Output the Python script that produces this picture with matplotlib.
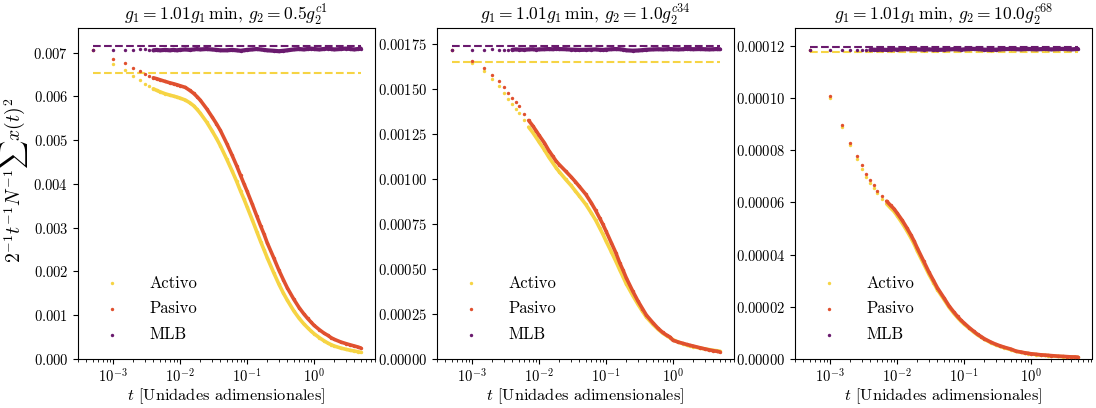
import matplotlib
matplotlib.use("Agg")
import matplotlib.pyplot as plt
import matplotlib.transforms as mtransforms
import numpy as np

plt.rcParams['font.family'] = 'serif'
plt.rcParams['font.serif'] = ['cmr10']
plt.rcParams['mathtext.fontset'] = 'cm'
plt.rcParams['axes.formatter.use_mathtext'] = True
plt.rcParams['axes.unicode_minus'] = False

# time grid (read positions)
T = [0.0005, 0.001, 0.0015, 0.002, 0.0025, 0.003, 0.0035, 0.004, 0.0045, 0.005,
     0.006, 0.007, 0.008, 0.009, 0.01, 0.012, 0.014, 0.016, 0.018, 0.02,
     0.025, 0.03, 0.035, 0.04, 0.05, 0.06, 0.07, 0.08, 0.09, 0.1,
     0.12, 0.14, 0.16, 0.18, 0.2, 0.25, 0.3, 0.35, 0.4, 0.5,
     0.6, 0.7, 0.8, 0.9, 1.0, 1.2, 1.4, 1.6, 1.8, 2.0,
     2.5, 3.0, 3.5, 4.0, 4.5, 5.0]

titles = [r'$g_1 = 1.01g_1\,\min$, $g_2 = 0.5g_2^{c1}$',
          r'$g_1 = 1.01g_1\,\min$, $g_2 = 1.0g_2^{c34}$',
          r'$g_1 = 1.01g_1\,\min$, $g_2 = 10.0g_2^{c68}$']
labels = ['Activo', 'Pasivo', 'MLB']
xlabel = r'$t$ [Unidades adimensionales]'
ylabel = r'$2^{-1}t^{-1}N^{-1}\sum x(t)^2$'

# panel 1 (x1e-3)
p1_activo = [7.06, 6.743, 6.591, 6.461, 6.362, 6.286, 6.225, 6.172, 6.134, 6.104,
             6.058, 6.028, 6.005, 5.982, 5.959, 5.914, 5.852, 5.784, 5.700, 5.617,
             5.411, 5.213, 5.038, 4.871, 4.559, 4.292, 4.057, 3.836, 3.653, 3.478,
             3.174, 2.908, 2.679, 2.489, 2.314, 1.972, 1.705, 1.500, 1.340, 1.096,
             0.929, 0.807, 0.716, 0.640, 0.579, 0.487, 0.419, 0.366, 0.328, 0.297,
             0.251, 0.221, 0.198, 0.183, 0.167, 0.152]
p1_pasivo = [7.06, 6.857, 6.750, 6.652, 6.568, 6.507, 6.461, 6.423, 6.401, 6.378,
             6.340, 6.309, 6.286, 6.264, 6.241, 6.203, 6.134, 6.066, 5.990, 5.914,
             5.716, 5.533, 5.373, 5.221, 4.917, 4.650, 4.415, 4.194, 4.003, 3.836,
             3.532, 3.265, 3.037, 2.847, 2.656, 2.314, 2.025, 1.804, 1.622, 1.363,
             1.173, 1.036, 0.929, 0.845, 0.769, 0.670, 0.594, 0.541, 0.487, 0.450,
             0.389, 0.351, 0.321, 0.297, 0.275, 0.251]
p1_mlb = [7.05, 7.05, 7.06, 7.06, 7.07, 7.07, 7.06, 7.05, 7.06, 7.05,
          7.06, 7.05, 7.06, 7.05, 7.06, 7.07, 7.06, 7.07, 7.08, 7.07,
          7.08, 7.07, 7.06, 7.05, 7.05, 7.06, 7.05, 7.04, 7.05, 7.06,
          7.07, 7.08, 7.07, 7.06, 7.05, 7.04, 7.03, 7.04, 7.05, 7.07,
          7.08, 7.07, 7.08, 7.09, 7.08, 7.07, 7.08, 7.09, 7.08, 7.07,
          7.08, 7.09, 7.08, 7.07, 7.08, 7.09]
p1_ref_mlb = 7.146
p1_ref_activo = 6.53

# panel 2 (x1e-3)
p2_activo = [1.720, 1.646, 1.600, 1.557, 1.517, 1.480, 1.448, 1.419, 1.391, 1.369,
             1.326, 1.289, 1.261, 1.233, 1.207, 1.163, 1.122, 1.091, 1.063, 1.041,
             0.998, 0.965, 0.933, 0.906, 0.859, 0.813, 0.772, 0.730, 0.693, 0.656,
             0.596, 0.544, 0.496, 0.456, 0.419, 0.354, 0.304, 0.265, 0.233, 0.193,
             0.165, 0.144, 0.130, 0.119, 0.107, 0.094, 0.085, 0.078, 0.072, 0.069,
             0.061, 0.056, 0.052, 0.048, 0.046, 0.043]
p2_pasivo = [1.720, 1.659, 1.619, 1.578, 1.545, 1.511, 1.480, 1.452, 1.426, 1.404,
             1.363, 1.326, 1.298, 1.270, 1.244, 1.202, 1.159, 1.128, 1.100, 1.081,
             1.044, 1.013, 0.985, 0.959, 0.915, 0.869, 0.826, 0.785, 0.748, 0.711,
             0.646, 0.591, 0.535, 0.493, 0.452, 0.378, 0.322, 0.280, 0.244, 0.202,
             0.170, 0.148, 0.133, 0.122, 0.104, 0.094, 0.087, 0.081, 0.076, 0.072,
             0.063, 0.056, 0.050, 0.046, 0.043, 0.039]
p2_mlb = [1.716, 1.718, 1.720, 1.722, 1.720, 1.718, 1.720, 1.719, 1.721, 1.720,
          1.719, 1.721, 1.722, 1.720, 1.721, 1.722, 1.723, 1.722, 1.724, 1.723,
          1.722, 1.720, 1.719, 1.718, 1.719, 1.720, 1.721, 1.719, 1.718, 1.720,
          1.722, 1.723, 1.722, 1.720, 1.716, 1.714, 1.715, 1.717, 1.719, 1.721,
          1.722, 1.721, 1.722, 1.723, 1.722, 1.721, 1.722, 1.724, 1.723, 1.722,
          1.723, 1.722, 1.721, 1.722, 1.723, 1.722]
p2_ref_mlb = 1.739
p2_ref_activo = 1.650

# panel 3 (x1e-5)
p3_activo = [11.86, 10.00, 8.91, 8.19, 7.66, 7.29, 6.98, 6.75, 6.55, 6.36,
             6.14, 5.95, 5.79, 5.66, 5.50, 5.20, 4.92, 4.66, 4.41, 4.15,
             3.65, 3.24, 2.93, 2.66, 2.29, 1.98, 1.76, 1.59, 1.45, 1.34,
             1.17, 1.03, 0.92, 0.84, 0.76, 0.63, 0.54, 0.48, 0.43, 0.36,
             0.29, 0.26, 0.23, 0.21, 0.19, 0.17, 0.15, 0.14, 0.13, 0.12,
             0.10, 0.09, 0.08, 0.07, 0.07, 0.06]
p3_pasivo = [11.86, 10.07, 8.99, 8.29, 7.80, 7.42, 7.11, 6.87, 6.66, 6.46,
             6.24, 6.05, 5.89, 5.76, 5.60, 5.31, 5.03, 4.77, 4.52, 4.26,
             3.75, 3.33, 3.01, 2.73, 2.35, 2.03, 1.81, 1.63, 1.49, 1.38,
             1.20, 1.06, 0.94, 0.86, 0.78, 0.65, 0.56, 0.50, 0.45, 0.38,
             0.30, 0.27, 0.24, 0.22, 0.20, 0.18, 0.16, 0.15, 0.14, 0.13,
             0.11, 0.10, 0.09, 0.08, 0.08, 0.07]
p3_mlb = [11.83, 11.84, 11.85, 11.86, 11.85, 11.86, 11.84, 11.85, 11.86, 11.85,
          11.86, 11.85, 11.86, 11.87, 11.86, 11.87, 11.88, 11.87, 11.88, 11.87,
          11.86, 11.87, 11.86, 11.85, 11.86, 11.87, 11.88, 11.87, 11.86, 11.87,
          11.88, 11.89, 11.88, 11.87, 11.86, 11.85, 11.86, 11.87, 11.88, 11.89,
          11.88, 11.87, 11.88, 11.89, 11.88, 11.87, 11.88, 11.89, 11.88, 11.87,
          11.88, 11.89, 11.88, 11.87, 11.88, 11.89]
p3_ref_mlb = 11.97
p3_ref_activo = 11.77

panels = [
    dict(scale=1e-3, data=[p1_activo, p1_pasivo, p1_mlb], refs=(p1_ref_activo, p1_ref_mlb),
         ylim=0.00756, dense=7),
    dict(scale=1e-3, data=[p2_activo, p2_pasivo, p2_mlb], refs=(p2_ref_activo, p2_ref_mlb),
         ylim=0.00184, dense=11),
    dict(scale=1e-5, data=[p3_activo, p3_pasivo, p3_mlb], refs=(p3_ref_activo, p3_ref_mlb),
         ylim=0.0001269, dense=11),
]

colors = ['#f6d444', '#e0502f', '#6a1a6e']

W, H = 1096, 408
fig = plt.figure(figsize=(W / 100, H / 100), dpi=100)
renderer = fig.canvas.get_renderer()


def fit_size(s, target_px, fs0=12.0):
    tx = fig.text(0, 0, s, fontsize=fs0)
    w = tx.get_window_extent(renderer=renderer).width
    tx.remove()
    return fs0 * target_px / w


# text sizes fitted to the widths measured on the reference
title_fs = np.mean([fit_size(titles[0], 205), fit_size(titles[1], 211), fit_size(titles[2], 219)])
xlabel_fs = fit_size(xlabel, 198)
ylabel_fs = fit_size(ylabel, 166)
legend_fs = fit_size('Activo', 48)
leg_px = legend_fs * 100 / 72

lefts = [78, 437, 795]
t = np.array(T)
axes = []
for i, p in enumerate(panels):
    ax = fig.add_axes([lefts[i] / W, 49 / H, 296.5 / W, 331 / H])
    axes.append(ax)
    sc = p['scale']
    ax.plot([t[0], t[-1]], [p['refs'][0] * sc] * 2, '--', color=colors[0], lw=1.5, zorder=1)
    ax.plot([t[0], t[-1]], [p['refs'][1] * sc] * 2, '--', color=colors[2], lw=1.5, zorder=1)
    for j, (vals, lab) in enumerate(zip(p['data'], labels)):
        y = np.array(vals) * sc
        d = p['dense'] if j < 2 else 7
        ax.plot(t[d:], y[d:], '-', color=colors[j], lw=2.6 if j < 2 else 3.0,
                solid_capstyle='round', zorder=2 + j)
        ax.scatter(t, y, s=6, color=colors[j], linewidths=0, label=lab, zorder=2 + j)
    ax.set_xscale('log')
    ax.set_xlim(3.0e-4, 8.0)
    ax.set_ylim(0, p['ylim'])
    ax.set_title(titles[i], fontsize=title_fs, pad=4)
    ax.set_xlabel(xlabel, fontsize=xlabel_fs, labelpad=2)
    ax.tick_params(labelsize=10.5)
    ax.tick_params(axis='x', pad=2.5)
    ax.legend(loc='lower left', frameon=False, fontsize=legend_fs, scatterpoints=1,
              labelspacing=0.5 + 2.0 / leg_px, handletextpad=0.8 + 8.0 / leg_px,
              borderaxespad=0.5 + 2.0 / leg_px)

ident = mtransforms.IdentityTransform()
axes[0].set_ylabel(ylabel, fontsize=ylabel_fs)
axes[0].yaxis.set_label_coords(33, H - 180, transform=ident)

# fine placement of titles / labels against reference pixel positions
fig.canvas.draw()
for i, ax in enumerate(axes):
    bb = ax.title.get_window_extent(renderer)
    dy = (H - 25) - bb.y0
    ax.set_title(titles[i], fontsize=title_fs, pad=4 + dy * 0.72)
    tick_y0 = min(lb.get_window_extent(renderer).y0 for lb in ax.get_xticklabels()
                  if lb.get_text())
    target_top = min(H - 383, tick_y0 - 1.5)
    bb = ax.xaxis.label.get_window_extent(renderer)
    dy = bb.y1 - target_top
    ax.xaxis.labelpad = 2 + dy * 0.72

# y label: right edge just left of the tick labels, centred vertically as in reference
tick_x0 = min(lb.get_window_extent(renderer).x0 for lb in axes[0].get_yticklabels()
              if lb.get_text())
bb = axes[0].yaxis.label.get_window_extent(renderer)
cy = (bb.y0 + bb.y1) / 2
axes[0].yaxis.set_label_coords(33 + ((tick_x0 - 3) - bb.x1), (H - 180) + ((H - 180) - cy),
                               transform=ident)

fig.savefig('out.png', dpi=100)
